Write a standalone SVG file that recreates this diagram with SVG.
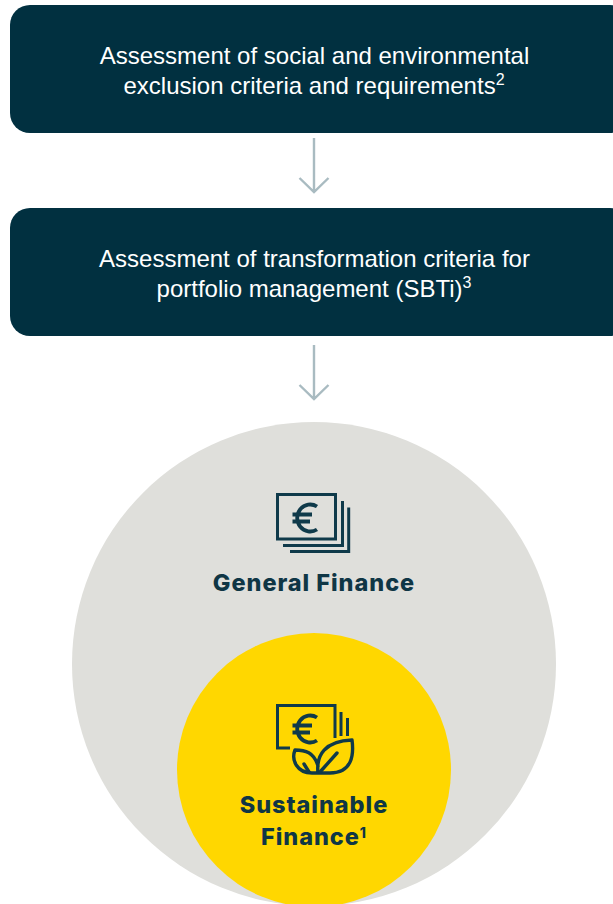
<svg xmlns="http://www.w3.org/2000/svg" width="613" height="904" viewBox="0 0 613 904">
<style>
.box{fill:#013040}
.t{font-family:"Liberation Sans",Arial,sans-serif;font-size:24px;fill:#fff;text-anchor:middle}
.s{font-size:16px}
.arr{fill:none;stroke:#a9bbc1;stroke-width:2.4}
.h{font-family:Inter,"Liberation Sans",sans-serif;font-weight:800;font-size:23.500px;letter-spacing:.95px;fill:#0f3645;text-anchor:middle}
.ic{fill:none;stroke:#0f3a4a;stroke-width:3}
.eu{fill:none;stroke:#0f3a4a;stroke-width:3.8}
.ic2{fill:none;stroke:#0f3a4a;stroke-width:3.4;stroke-linejoin:round;stroke-linecap:round}
</style>
<rect width="613" height="904" fill="#fff"/>
<g id="connectors">
<path class="arr" d="M314 138V191M299.500 178L314 192L328.500 178"/>
<path class="arr" d="M314 345V398M299.500 385L314 399L328.500 385"/>
</g>
<g id="node-exclusion">
<rect class="box" x="10" y="5" width="620" height="128" rx="20"/>
<text class="t" x="314.500" y="64">Assessment of social and environmental</text>
<text class="t" x="314" y="93.500">exclusion criteria and requirements<tspan class="s" dy="-9">2</tspan></text>
</g>
<g id="node-transformation">
<rect class="box" x="10" y="208" width="620" height="128" rx="20"/>
<text class="t" x="314.500" y="266.500">Assessment of transformation criteria for</text>
<text class="t" x="314" y="296.500">portfolio management (SBTi)<tspan class="s" dy="-9">3</tspan></text>
</g>
<g id="node-general-finance">
<circle cx="314" cy="664" r="242" fill="#dfdfdb"/>
<rect class="ic" x="277.500" y="494.500" width="58" height="44.500"/>
<path class="ic" d="M283 545.500H342.500V501M290 551.500H348.700V507.500"/>
<path class="eu" d="M317 506.500A13 13.500 0 1 0 317 529.500M292.500 514.500H312M292.500 521.500H310"/>
<text class="h" x="314" y="590.500">General Finance</text>
</g>
<g id="node-sustainable-finance">
<circle cx="314" cy="770" r="137" fill="#ffd700"/>
<path class="ic" d="M290 748H277.500V705.500H335V738M341 712V736M347.500 718V736"/>
<path class="eu" d="M317 717.500A13 13.500 0 1 0 317 740.500M292.500 725.500H312M292.500 732.500H310"/>
<path class="ic2" d="M318 773C316 755 325 741 352 740C354 755 352 773 330 773H312C297 773 291 760 295 750C305 750 314 752 318 766"/>
<path class="ic2" d="M309 772L304 764M320 772L337 753"/>
<text class="h" x="314" y="812.500">Sustainable</text>
<text class="h" x="314" y="844.500">Finance<tspan font-size="14" dy="-7">1</tspan></text>
</g>
</svg>
